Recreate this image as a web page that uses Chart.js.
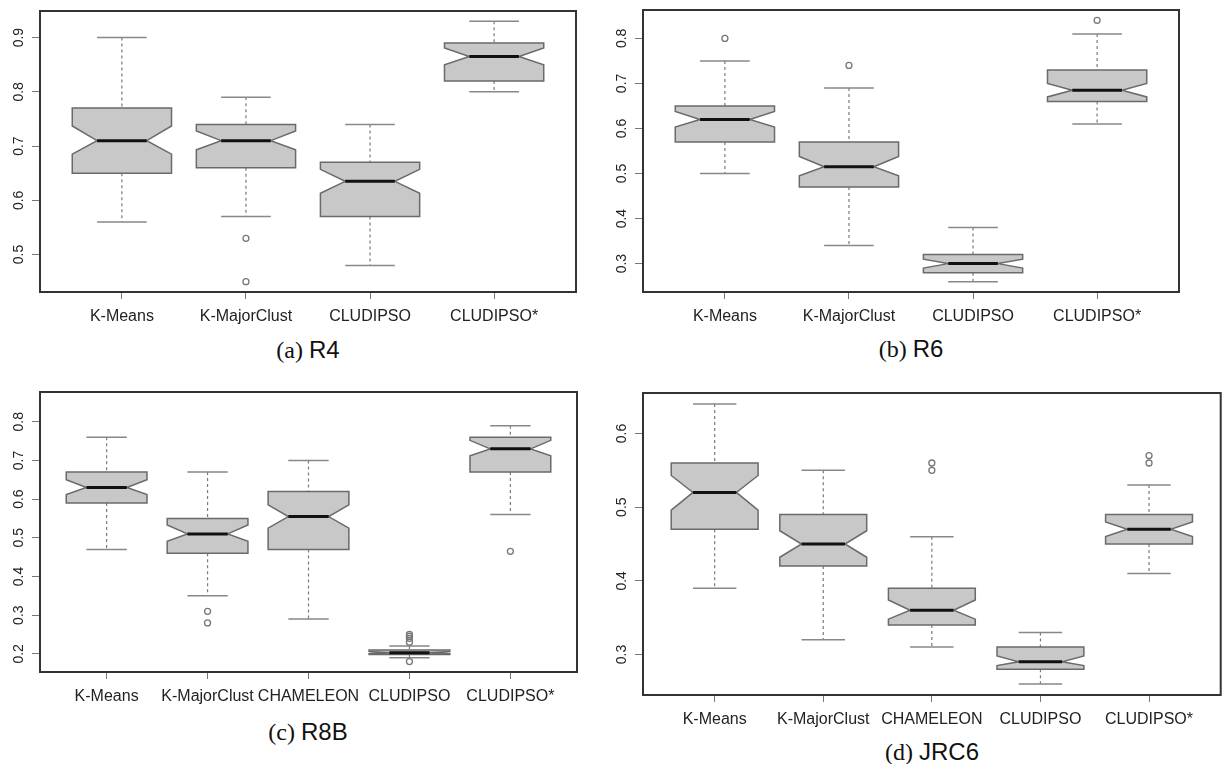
<!DOCTYPE html>
<html>
<head>
<meta charset="utf-8">
<script src="https://cdn.jsdelivr.net/npm/chart.js@4.4.1/dist/chart.umd.min.js"></script>
<style>
  body { margin: 0; background: #fff; }
  #wrap { position: relative; width: 1225px; height: 764px; overflow: hidden; }
  canvas { position: absolute; }
  .cap { position: absolute; width: 300px; text-align: center; font-size: 24px; line-height: 28px; color: #111; }
  .cap .s { font-family: "Liberation Serif", serif; }
  .cap .n { font-family: "Liberation Sans", Arial, sans-serif; }
</style>
</head>
<body>
<div id="wrap">
  <canvas id="chartA" style="left:0;top:0" width="600" height="330"></canvas>
  <canvas id="chartB" style="left:600px;top:0" width="625" height="330"></canvas>
  <canvas id="chartC" style="left:0;top:380px" width="600" height="330"></canvas>
  <canvas id="chartD" style="left:600px;top:380px" width="625" height="353"></canvas>
  <div class="cap" style="left:158px;top:336px"><span class="s">(a)</span> <span class="n">R4</span></div>
  <div class="cap" style="left:761px;top:335px"><span class="s">(b)</span> <span class="n">R6</span></div>
  <div class="cap" style="left:158px;top:718px"><span class="s">(c)</span> <span class="n">R8B</span></div>
  <div class="cap" style="left:782px;top:738px"><span class="s">(d)</span> <span class="n">JRC6</span></div>
</div>
<script>
// categories
const cats4 = ["K-Means", "K-MajorClust", "CLUDIPSO", "CLUDIPSO*"];
const cats5 = ["K-Means", "K-MajorClust", "CHAMELEON", "CLUDIPSO", "CLUDIPSO*"];

// [lower whisker, Q1, median, Q3, upper whisker]
const r4Stats = [
  [0.56, 0.65, 0.71, 0.77, 0.90],
  [0.57, 0.66, 0.71, 0.74, 0.79],
  [0.48, 0.57, 0.635, 0.67, 0.74],
  [0.80, 0.82, 0.865, 0.89, 0.93]
];
const r4Notch = [[0.685, 0.737], [0.693, 0.728], [0.613, 0.657], [0.850, 0.881]];
const r4Out = [[], [0.53, 0.45], [], []];
const r4Ticks = [0.5, 0.6, 0.7, 0.8, 0.9];

const r6Stats = [
  [0.50, 0.57, 0.62, 0.65, 0.75],
  [0.34, 0.47, 0.515, 0.57, 0.69],
  [0.26, 0.28, 0.30, 0.32, 0.38],
  [0.61, 0.66, 0.685, 0.73, 0.81]
];
const r6Notch = [[0.603, 0.638], [0.495, 0.538], [0.29, 0.31], [0.67, 0.70]];
const r6Out = [[0.80], [0.74], [], [0.84]];
const r6Ticks = [0.3, 0.4, 0.5, 0.6, 0.7, 0.8];

const r8bStats = [
  [0.47, 0.59, 0.63, 0.67, 0.76],
  [0.35, 0.46, 0.51, 0.55, 0.67],
  [0.29, 0.47, 0.555, 0.62, 0.70],
  [0.19, 0.198, 0.203, 0.21, 0.22],
  [0.56, 0.67, 0.73, 0.76, 0.79]
];
const r8bNotch = [[0.612, 0.65], [0.491, 0.533], [0.525, 0.585], [0.200, 0.206], [0.712, 0.752]];
const r8bOut = [[], [0.31, 0.28], [], [0.25, 0.245, 0.24, 0.23, 0.18], [0.465]];
const r8bTicks = [0.2, 0.3, 0.4, 0.5, 0.6, 0.7, 0.8];

const jrc6Stats = [
  [0.39, 0.47, 0.52, 0.56, 0.64],
  [0.32, 0.42, 0.45, 0.49, 0.55],
  [0.31, 0.34, 0.36, 0.39, 0.46],
  [0.26, 0.28, 0.29, 0.31, 0.33],
  [0.41, 0.45, 0.47, 0.49, 0.53]
];
const jrc6Notch = [[0.496, 0.543], [0.432, 0.468], [0.348, 0.374], [0.285, 0.298], [0.46, 0.48]];
const jrc6Out = [[], [], [0.56, 0.55], [], [0.57, 0.56]];
const jrc6Ticks = [0.3, 0.4, 0.5, 0.6];

Chart.defaults.font.family = '"Liberation Sans", Arial, sans-serif';

// notched boxes, drawn like R's boxplot(notch = TRUE)
function boxPlugin(stats, notch) {
  return {
    id: "notchedBoxes",
    beforeDatasetsDraw(chart) {
      const { ctx, scales: { x, y } } = chart;
      const half = x.getPixelForValue(1.4) - x.getPixelForValue(1);
      stats.forEach((s, i) => {
        const cx = x.getPixelForValue(i + 1);
        const [lo, q1, med, q3, hi] = s.map(v => y.getPixelForValue(v));
        const nLo = y.getPixelForValue(notch[i][0]);
        const nHi = y.getPixelForValue(notch[i][1]);
        ctx.save();
        ctx.strokeStyle = "#7a7a7a";
        ctx.lineWidth = 1.2;
        ctx.setLineDash([3, 3]);
        ctx.beginPath();
        ctx.moveTo(cx, hi); ctx.lineTo(cx, q3);
        ctx.moveTo(cx, q1); ctx.lineTo(cx, lo);
        ctx.stroke();
        ctx.setLineDash([]);
        ctx.strokeStyle = "#888";
        ctx.lineWidth = 1.5;
        ctx.beginPath();
        ctx.moveTo(cx - half / 2, hi); ctx.lineTo(cx + half / 2, hi);
        ctx.moveTo(cx - half / 2, lo); ctx.lineTo(cx + half / 2, lo);
        ctx.stroke();

        ctx.beginPath();
        ctx.moveTo(cx - half, q1);
        ctx.lineTo(cx + half, q1);
        ctx.lineTo(cx + half, nLo);
        ctx.lineTo(cx + half / 2, med);
        ctx.lineTo(cx + half, nHi);
        ctx.lineTo(cx + half, q3);
        ctx.lineTo(cx - half, q3);
        ctx.lineTo(cx - half, nHi);
        ctx.lineTo(cx - half / 2, med);
        ctx.lineTo(cx - half, nLo);
        ctx.closePath();
        ctx.fillStyle = "#c8c8c8";
        ctx.fill();
        ctx.strokeStyle = "#6a6a6a";
        ctx.lineWidth = 1.5;
        ctx.stroke();

        ctx.strokeStyle = "#111";
        ctx.lineWidth = 3;
        ctx.beginPath();
        ctx.moveTo(cx - half / 2, med); ctx.lineTo(cx + half / 2, med);
        ctx.stroke();
        ctx.restore();
      });
    },
    afterDraw(chart) {
      const { ctx, chartArea: a, scales: { y } } = chart;
      ctx.save();
      ctx.strokeStyle = "#333";
      ctx.lineWidth = 2;
      ctx.strokeRect(a.left, a.top, a.right - a.left, a.bottom - a.top);
      // y labels, rotated as in R (las = 0)
      ctx.fillStyle = "#222";
      ctx.font = '14px "Liberation Sans", Arial, sans-serif';
      ctx.textAlign = "center";
      ctx.textBaseline = "middle";
      y.ticks.forEach(t => {
        ctx.save();
        ctx.translate(a.left - 21, y.getPixelForValue(t.value));
        ctx.rotate(-Math.PI / 2);
        ctx.fillText(t.value.toFixed(1), 0, 0);
        ctx.restore();
      });
      ctx.restore();
    }
  };
}

function drawPanel(id, cats, stats, notch, outliers, yTicks, yMin, yMax, pad, yWidth) {
  const n = cats.length;
  const points = [];
  outliers.forEach((list, i) => list.forEach(v => points.push({ x: i + 1, y: v })));

  new Chart(document.getElementById(id), {
    type: "scatter",
    data: {
      datasets: [{
        data: points,
        pointRadius: 3,
        pointHoverRadius: 3,
        borderWidth: 1.3,
        borderColor: "#777",
        backgroundColor: "rgba(0,0,0,0)"
      }]
    },
    options: {
      responsive: false,
      animation: false,
      events: [],
      layout: { padding: pad },
      plugins: { legend: { display: false }, tooltip: { enabled: false } },
      scales: {
        x: {
          type: "linear",
          min: 1 - 0.66,
          max: n + 0.66,
          afterBuildTicks: s => { s.ticks = cats.map((c, i) => ({ value: i + 1 })); },
          afterFit: s => { s.height = 38; },
          border: { display: false },
          grid: { drawOnChartArea: false, tickLength: 7, color: "#777" },
          ticks: {
            callback: v => cats[v - 1],
            autoSkip: false,
            minRotation: 0,
            maxRotation: 0,
            padding: 8,
            color: "#222",
            font: { size: 16 }
          }
        },
        y: {
          type: "linear",
          min: yMin,
          max: yMax,
          afterBuildTicks: s => { s.ticks = yTicks.map(v => ({ value: v })); },
          afterFit: s => { s.width = yWidth; },
          border: { display: false },
          grid: { drawOnChartArea: false, tickLength: 8, color: "#777" },
          ticks: { display: false }
        }
      }
    },
    plugins: [boxPlugin(stats, notch)]
  });
}

drawPanel("chartA", cats4, r4Stats, r4Notch, r4Out, r4Ticks, 0.431, 0.949, { top: 11, right: 24, bottom: 0, left: 0 }, 40);
drawPanel("chartB", cats4, r6Stats, r6Notch, r6Out, r6Ticks, 0.237, 0.863, { top: 10, right: 46, bottom: 0, left: 0 }, 43);
drawPanel("chartC", cats5, r8bStats, r8bNotch, r8bOut, r8bTicks, 0.153, 0.877, { top: 12, right: 23, bottom: 0, left: 0 }, 40);
drawPanel("chartD", cats5, jrc6Stats, jrc6Notch, jrc6Out, jrc6Ticks, 0.245, 0.655, { top: 13, right: 3, bottom: 0, left: 0 }, 43);
</script>
</body>
</html>
